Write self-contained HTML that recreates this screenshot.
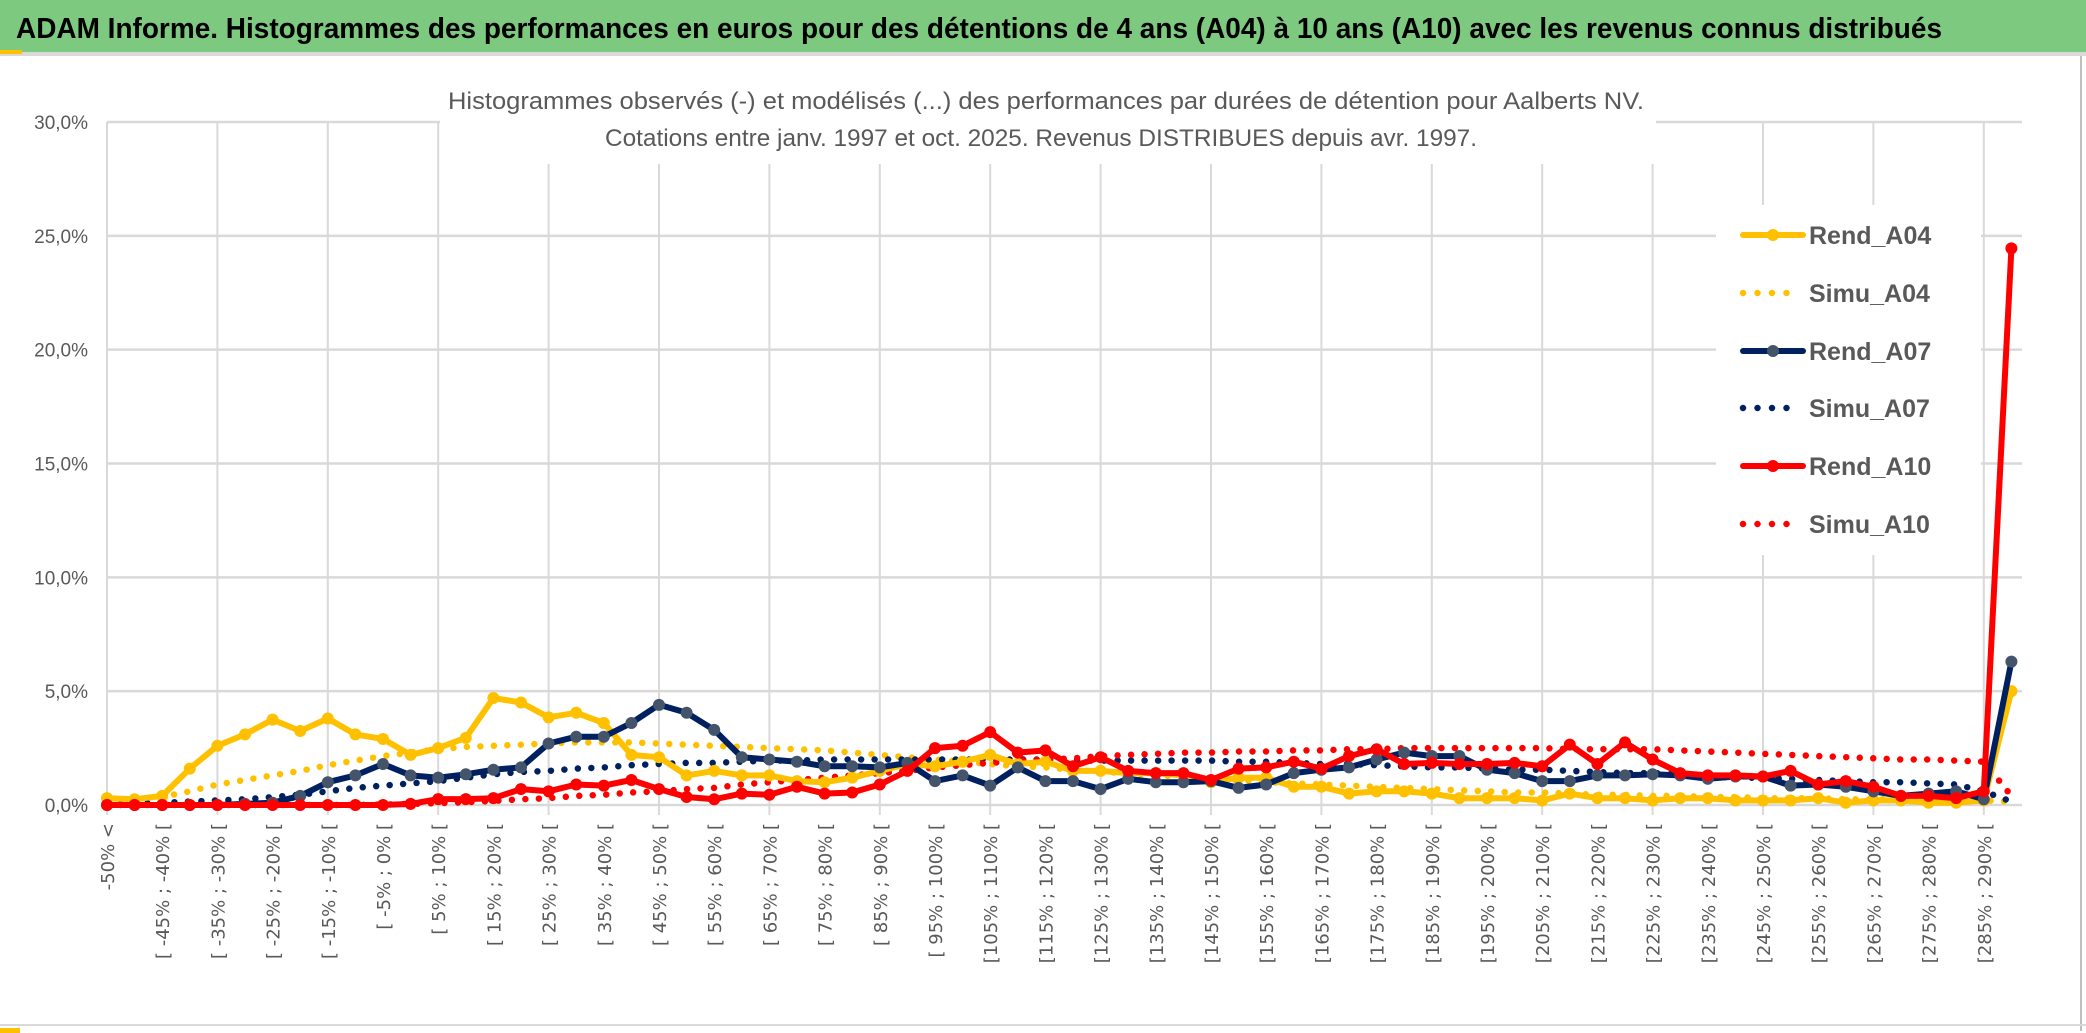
<!DOCTYPE html>
<html><head><meta charset="utf-8"><title>ADAM Informe</title>
<style>
html,body{margin:0;padding:0;background:#fff;}
svg{display:block;}
</style></head>
<body>
<svg id="chart" width="2086" height="1033" viewBox="0 0 2086 1033" xmlns="http://www.w3.org/2000/svg">
  <rect x="0" y="0" width="2086" height="1033" fill="#ffffff"/>
  <rect x="0" y="0" width="2086" height="52" fill="#7dc97f"/>
  <rect x="0" y="52" width="2086" height="4" fill="#d9d9d9"/>
  <rect x="0" y="50" width="22" height="4" fill="#ffc000"/>
  <text x="16" y="38" font-family="'Liberation Sans Narrow','Liberation Sans',sans-serif" font-weight="bold" font-size="29" fill="#000" textLength="1926" lengthAdjust="spacingAndGlyphs">ADAM Informe. Histogrammes des performances en euros pour des détentions de 4 ans (A04) à 10 ans (A10) avec les revenus connus distribués</text>
  <rect x="2080" y="56" width="2" height="975" fill="#bfbfbf"/>
  <rect x="0" y="1024" width="2086" height="2" fill="#d9d9d9"/>
  <rect x="0" y="1028" width="20" height="5" fill="#ffc000"/>
  <g id="plot"></g>
</svg>
<script>
const categoriesStart = -50;
const categoryStep = 5;
const yTicks = [0,5,10,15,20,25,30];
const yTickLabels = ["0,0%","5,0%","10,0%","15,0%","20,0%","25,0%","30,0%"];
const rendA04 = [0.3,0.25,0.4,1.6,2.6,3.1,3.75,3.25,3.8,3.1,2.9,2.2,2.5,2.95,4.7,4.5,3.85,4.05,3.6,2.2,2.1,1.3,1.5,1.3,1.3,1.05,1.0,1.2,1.5,1.8,1.7,1.9,2.2,1.8,1.9,1.5,1.5,1.4,1.4,1.3,1.0,1.2,1.2,0.8,0.8,0.5,0.6,0.6,0.5,0.3,0.3,0.3,0.2,0.5,0.3,0.3,0.2,0.3,0.3,0.2,0.2,0.2,0.3,0.1,0.2,0.2,0.1,0.1,0.2,5.0];
const simuA04 = [0.15,0.2,0.35,0.6,0.9,1.1,1.3,1.5,1.75,1.95,2.15,2.3,2.45,2.55,2.6,2.65,2.7,2.75,2.75,2.75,2.7,2.65,2.6,2.55,2.5,2.45,2.4,2.3,2.2,2.1,2.0,1.9,1.8,1.7,1.65,1.55,1.45,1.4,1.3,1.25,1.15,1.1,1.0,0.95,0.9,0.85,0.8,0.75,0.7,0.65,0.6,0.55,0.55,0.5,0.45,0.45,0.4,0.4,0.35,0.35,0.3,0.3,0.3,0.25,0.25,0.25,0.2,0.2,0.2,0.15];
const rendA07 = [0,0,0,0,0,0.05,0.1,0.4,1.0,1.3,1.8,1.3,1.2,1.35,1.55,1.65,2.7,3.0,3.0,3.6,4.4,4.05,3.3,2.1,2.0,1.9,1.7,1.7,1.65,1.85,1.05,1.3,0.85,1.65,1.05,1.05,0.7,1.15,1.0,1.0,1.05,0.75,0.9,1.4,1.55,1.65,2.0,2.3,2.15,2.15,1.55,1.4,1.05,1.05,1.3,1.3,1.35,1.3,1.15,1.25,1.25,0.85,0.9,0.8,0.6,0.4,0.5,0.6,0.25,6.3];
const simuA07 = [0,0.05,0.1,0.15,0.2,0.25,0.35,0.45,0.6,0.75,0.85,0.95,1.05,1.2,1.35,1.45,1.5,1.6,1.65,1.75,1.8,1.85,1.85,1.9,1.95,1.95,2.0,2.0,2.0,2.0,2.0,2.0,2.0,2.0,2.0,1.95,1.95,1.95,1.95,1.95,1.95,1.9,1.9,1.85,1.8,1.8,1.75,1.7,1.65,1.65,1.6,1.55,1.55,1.5,1.45,1.4,1.4,1.35,1.25,1.2,1.2,1.15,1.1,1.05,1.0,1.0,0.95,0.9,0.6,0.15];
const rendA10 = [0,0,0,0,0,0,0,0,0,0,0,0.05,0.26,0.26,0.3,0.7,0.6,0.9,0.85,1.1,0.7,0.35,0.25,0.5,0.45,0.8,0.5,0.55,0.9,1.5,2.5,2.6,3.2,2.3,2.4,1.7,2.1,1.5,1.4,1.4,1.1,1.6,1.65,1.9,1.6,2.15,2.45,1.8,1.85,1.8,1.8,1.85,1.7,2.65,1.8,2.75,2.0,1.4,1.3,1.3,1.25,1.5,0.9,1.05,0.8,0.4,0.4,0.3,0.6,24.45];
const simuA10 = [0,0,0,0,0,0,0,0,0,0,0.02,0.05,0.08,0.12,0.18,0.25,0.3,0.4,0.45,0.55,0.6,0.7,0.75,0.9,1.0,1.1,1.2,1.3,1.4,1.5,1.65,1.75,1.85,1.95,2.0,2.05,2.15,2.2,2.25,2.3,2.3,2.35,2.35,2.4,2.4,2.45,2.45,2.5,2.5,2.5,2.5,2.5,2.5,2.45,2.45,2.45,2.45,2.4,2.35,2.3,2.25,2.2,2.15,2.1,2.05,2.0,2.0,1.95,1.9,0.4];
const seriesNames = ["Rend_A04","Simu_A04","Rend_A07","Simu_A07","Rend_A10","Simu_A10"];

const NS = "http://www.w3.org/2000/svg";
const plot = document.getElementById('plot');
const X0 = 107, DX = 27.6, Y0 = 805, YTOP = 122, YMAX = 30, XR = 2022;
const N = rendA04.length;
function xs(i){ return X0 + i*DX; }
function ys(v){ return Y0 - (v/YMAX)*(Y0-YTOP); }
function mk(tag, attrs, parent){
  const e = document.createElementNS(NS, tag);
  for (const k in attrs) e.setAttribute(k, attrs[k]);
  (parent||plot).appendChild(e);
  return e;
}
function catLabel(i){
  if (i === 0) return "-50% <";
  const a = categoriesStart + (i-1)*categoryStep, b = a + categoryStep;
  const sa = (a >= 100 ? "" : " ");
  return "[" + sa + a + "% ; " + b + "% [";
}
yTicks.forEach((t, k) => {
  const g = mk('line', {x1:X0, x2:XR, y1:ys(t), y2:ys(t), stroke:'#d9d9d9', 'stroke-width':2.5});
  
  
  const tx = mk('text', {x:88, y:ys(t)+7, 'text-anchor':'end', 'font-family':"'Liberation Sans Narrow','Liberation Sans',sans-serif", 'font-size':19, fill:'#595959'});
  tx.textContent = yTickLabels[k];
  
  
});
for (let i = 0; i < N; i += 4) {
  const g = mk('line', {x1:xs(i), x2:xs(i), y1:YTOP, y2:Y0+10, stroke:'#d9d9d9', 'stroke-width':2});
  
  
}
for (let i = 0; i < N; i += 2) {
  if (i > 68) break;
  const tx = mk('text', {x:0, y:0, 'text-anchor':'end', transform:'translate(' + (xs(i)+7) + ',823) rotate(-90)', 'font-family':"'DejaVu Sans','Liberation Sans',sans-serif", 'font-size':18, fill:'#595959'});
  tx.textContent = catLabel(i);
  
  
}
const sb = mk('rect', {x:440, y:76, width:1216, height:88, fill:'#fff'});


const st1 = mk('text', {x:1046, y:109, 'text-anchor':'middle', 'font-family':"'Liberation Sans Narrow','Liberation Sans',sans-serif", 'font-size':24, fill:'#595959', textLength:1196, lengthAdjust:'spacingAndGlyphs'});
st1.textContent = "Histogrammes observés (-) et modélisés (...) des performances par durées de détention pour Aalberts NV.";


const st2 = mk('text', {x:1041, y:146, 'text-anchor':'middle', 'font-family':"'Liberation Sans Narrow','Liberation Sans',sans-serif", 'font-size':24, fill:'#595959', textLength:872, lengthAdjust:'spacingAndGlyphs'});
st2.textContent = "Cotations entre janv. 1997 et oct. 2025. Revenus DISTRIBUES depuis avr. 1997.";


// legend background first so series draw above it
const lb = mk('rect', {x:1716, y:205, width:265, height:350, fill:'#fff'});


function pathOf(arr){ return arr.map((v,i)=>(i?'L':'M')+xs(i).toFixed(1)+','+ys(v).toFixed(1)).join(' '); }
function dotted(arr, color, name){
  const p = mk('path', {d:pathOf(arr), fill:'none', stroke:color, 'stroke-width':6.5, 'stroke-linecap':'round', 'stroke-dasharray':'0 13.5'});
  
  
}
function solid(arr, color, mcolor, name){
  const p = mk('path', {d:pathOf(arr), fill:'none', stroke:color, 'stroke-width':6, 'stroke-linejoin':'round'});
  
  
  arr.forEach((v,i)=>{
    const c = mk('circle', {cx:xs(i), cy:ys(v), r:6, fill:mcolor});
    
    
  });
}
dotted(simuA04, '#ffc000', 'simu-a04-line');
dotted(simuA07, '#002060', 'simu-a07-line');
dotted(simuA10, '#ff0000', 'simu-a10-line');
solid(rendA04, '#ffc000', '#ffc000', 'rend-a04-line');
solid(rendA07, '#002060', '#44546a', 'rend-a07-line');
solid(rendA10, '#ff0000', '#ff0000', 'rend-a10-line');
const legColors = ['#ffc000','#ffc000','#002060','#002060','#ff0000','#ff0000'];
const legMarker = ['#ffc000',null,'#44546a',null,'#ff0000',null];
const legY = [235,293,351,408,466,524];
seriesNames.forEach((nm, k) => {
  const y = legY[k];
  if (legMarker[k]) {
    const l = mk('line', {x1:1743, x2:1803, y1:y, y2:y, stroke:legColors[k], 'stroke-width':6, 'stroke-linecap':'round'});
    
    
    const c = mk('circle', {cx:1773, cy:y, r:6, fill:legMarker[k]});
    
    
  } else {
    const l = mk('line', {x1:1743, x2:1800, y1:y, y2:y, stroke:legColors[k], 'stroke-width':6.5, 'stroke-linecap':'round', 'stroke-dasharray':'0 14.5'});
    
    
  }
  const t = mk('text', {x:1809, y:y+9, 'font-family':"'Liberation Sans Narrow','Liberation Sans',sans-serif", 'font-size':25, 'font-weight':'bold', fill:'#595959'});
  t.textContent = nm;
  
  
});
</script>
</body></html>
